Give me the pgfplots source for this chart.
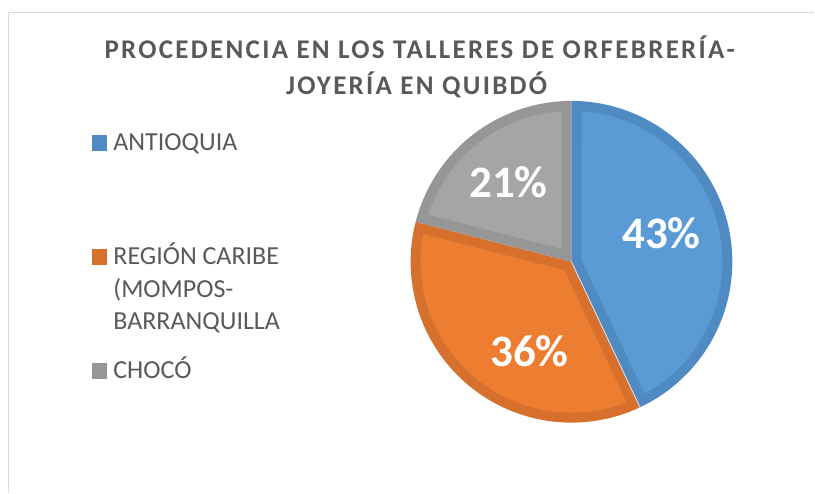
\documentclass[border=0pt]{standalone}
\usepackage{pgfplots}
\pgfplotsset{compat=1.18}
\usepackage{pgfplotstable}
\usepackage{fontspec}
\setmainfont{Carlito}
\newfontfamily\titlefont[LetterSpace=8.5]{Carlito}

\definecolor{cblue}{RGB}{91,155,213}
\definecolor{cblueD}{RGB}{80,138,195}
\definecolor{corange}{RGB}{237,125,49}
\definecolor{corangeD}{RGB}{214,112,44}
\definecolor{cgray}{RGB}{165,165,165}
\definecolor{cgrayD}{RGB}{150,150,150}
\definecolor{ctext}{RGB}{89,89,89}
\definecolor{cframe}{RGB}{217,217,217}

\pgfplotstableread{
label value
Antioquia 43
Caribe 36
Choco 21
}\piedata
\pgfplotstablegetelem{0}{value}\of\piedata \let\vA\pgfplotsretval
\pgfplotstablegetelem{1}{value}\of\piedata \let\vB\pgfplotsretval
\pgfplotstablegetelem{2}{value}\of\piedata \let\vC\pgfplotsretval

% geometry (in pixel units of the picture)
\pgfmathsetmacro\pcx{572}
\pgfmathsetmacro\pcy{231}
\pgfmathsetmacro\pR{161}
\pgfmathsetmacro\pbw{10}
\pgfmathsetmacro\pRi{\pR-\pbw}
\pgfmathsetmacro\pdl{asin(\pbw/\pRi)}
\pgfmathsetmacro\aA{90}
\pgfmathsetmacro\aB{\aA-3.6*\vA}
\pgfmathsetmacro\aC{\aB-3.6*\vB}
\pgfmathsetmacro\aD{\aC-3.6*\vC}
% separator end point (orange/blue)
\pgfmathsetmacro\psx{\pcx+\pR*cos(\aB)}
\pgfmathsetmacro\psy{\pcy+\pR*sin(\aB)}
% blue slice inset
\pgfmathsetmacro\pmA{(\aA+\aB)/2}
\pgfmathsetmacro\pdA{\pbw/sin((\aA-\aB)/2)}
\pgfmathsetmacro\pxA{\pcx+\pdA*cos(\pmA)}
\pgfmathsetmacro\pyA{\pcy+\pdA*sin(\pmA)}
\pgfmathsetmacro\ploA{\aB+\pdl}
\pgfmathsetmacro\phiA{\aA-\pdl}
% orange slice inset
\pgfmathsetmacro\pmB{(\aB+\aC)/2}
\pgfmathsetmacro\pdB{\pbw/sin((\aB-\aC)/2)}
\pgfmathsetmacro\pxB{\pcx+\pdB*cos(\pmB)}
\pgfmathsetmacro\pyB{\pcy+\pdB*sin(\pmB)}
\pgfmathsetmacro\ploB{\aC+\pdl}
\pgfmathsetmacro\phiB{\aB-\pdl}
% gray slice inset
\pgfmathsetmacro\pmC{(\aC+\aD)/2}
\pgfmathsetmacro\pdC{\pbw/sin((\aC-\aD)/2)}
\pgfmathsetmacro\pxC{\pcx+\pdC*cos(\pmC)}
\pgfmathsetmacro\pyC{\pcy+\pdC*sin(\pmC)}
\pgfmathsetmacro\ploC{\aD+\pdl}
\pgfmathsetmacro\phiC{\aC-\pdl}

\begin{document}
\begin{tikzpicture}
\begin{axis}[
  at={(0pt,0pt)}, anchor=south west,
  scale only axis, width=815pt, height=493pt,
  xmin=0, xmax=815, ymin=0, ymax=493,
  hide axis, clip=false,
  legend cell align=left,
  legend image code/.code={\fill[#1, draw=none] (0pt,0pt) rectangle (15.5pt,15.5pt);},
  legend style={draw=none, fill=none, at={(axis cs:92,359)}, anchor=north west,
    inner sep=0pt, outer sep=0pt, row sep=91pt, column sep=6pt,
    font=\fontsize{26}{32.5}\selectfont, text=ctext,
    nodes={inner sep=0pt, outer sep=0pt, anchor=base west}},
]
\path (axis cs:0,0) rectangle (axis cs:815,493);
\draw[cframe, line width=1.5pt] (axis cs:8.5,0) -- (axis cs:8.5,480.5) -- (axis cs:815,480.5);

% blue
\addplot[forget plot, draw=none, fill=cblueD, domain=\aB:\aA, samples=100]
  ({\pcx+\pR*cos(x)},{\pcy+\pR*sin(x)}) -- (axis cs:\pcx,\pcy) -- cycle;
\addplot[forget plot, draw=none, fill=cblue, domain=\ploA:\phiA, samples=100]
  ({\pcx+\pRi*cos(x)},{\pcy+\pRi*sin(x)}) -- (axis cs:\pxA,\pyA) -- cycle;
% orange
\addplot[forget plot, draw=none, fill=corangeD, domain=\aC:\aB, samples=100]
  ({\pcx+\pR*cos(x)},{\pcy+\pR*sin(x)}) -- (axis cs:\pcx,\pcy) -- cycle;
\addplot[forget plot, draw=none, fill=corange, domain=\ploB:\phiB, samples=100]
  ({\pcx+\pRi*cos(x)},{\pcy+\pRi*sin(x)}) -- (axis cs:\pxB,\pyB) -- cycle;
% gray
\addplot[forget plot, draw=none, fill=cgrayD, domain=\aD:\aC, samples=100]
  ({\pcx+\pR*cos(x)},{\pcy+\pR*sin(x)}) -- (axis cs:\pcx,\pcy) -- cycle;
\addplot[forget plot, draw=none, fill=cgray, domain=\ploC:\phiC, samples=100]
  ({\pcx+\pRi*cos(x)},{\pcy+\pRi*sin(x)}) -- (axis cs:\pxC,\pyC) -- cycle;
% thin light separator between orange and blue
\draw[white!80!cblue, line width=0.8pt] (axis cs:\pcx,\pcy) -- (axis cs:\psx,\psy);

% percentage labels
\node[font=\fontsize{45}{52}\selectfont\bfseries, text=white] at (axis cs:662,260) {\vA\%};
\node[font=\fontsize{45}{52}\selectfont\bfseries, text=white] at (axis cs:530,141) {\vB\%};
\node[font=\fontsize{45}{52}\selectfont\bfseries, text=white] at (axis cs:509,311) {\vC\%};

% title
\node[font=\titlefont\bfseries\fontsize{27}{30}\selectfont, text=ctext, anchor=base, inner sep=0pt]
  at (axis cs:420,434.7) {PROCEDENCIA EN LOS TALLERES DE ORFEBRERÍA-};
\node[font=\titlefont\bfseries\fontsize{27}{30}\selectfont, text=ctext, anchor=base, inner sep=0pt]
  at (axis cs:417,398) {JOYERÍA EN QUIBDÓ};

% legend
\addlegendimage{fill=cblueD}
\addlegendentry{ANTIOQUIA}
\addlegendimage{fill=corangeD}
\addlegendentry{\parbox[t]{220pt}{REGIÓN CARIBE\newline (MOMPOS-\newline BARRANQUILLA}}
\addlegendimage{fill=cgrayD}
\addlegendentry{CHOCÓ}
\end{axis}
\end{tikzpicture}
\end{document}
